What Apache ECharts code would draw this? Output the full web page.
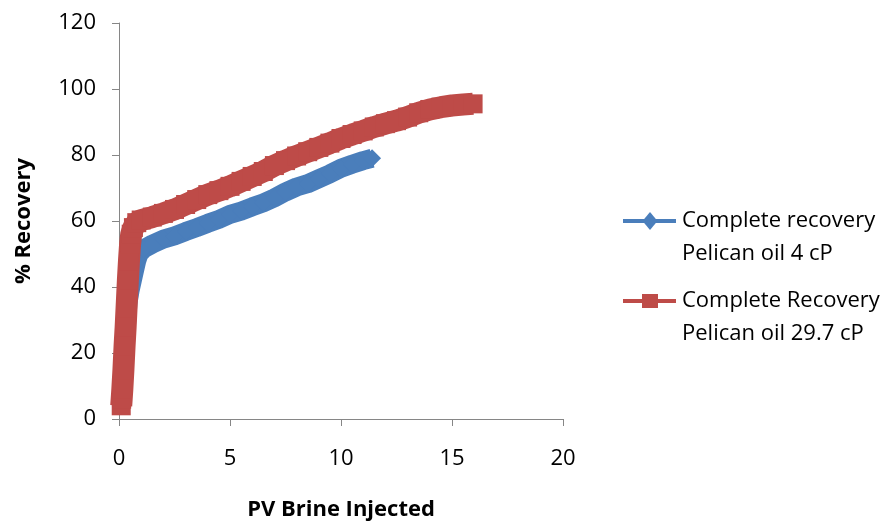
<!DOCTYPE html>
<html>
<head>
<meta charset="utf-8">
<script src="https://cdn.jsdelivr.net/npm/echarts@6/dist/echarts.min.js"></script>
<style>
html,body{margin:0;padding:0;background:#fff;}
#c{width:889px;height:521px;}
</style>
</head>
<body>
<div id="c"></div>
<script>
// ---- data ----
var seriesNames = ['Complete recovery\nPelican oil 4 cP', 'Complete Recovery\nPelican oil 29.7 cP'];
var xTicks = [0, 5, 10, 15, 20];
var yTicks = [0, 20, 40, 60, 80, 100, 120];

var blueX = [0.15, 0.2, 0.25, 0.3, 0.35, 0.4, 0.5, 0.6, 0.7, 0.8, 0.9, 1.1, 1.5, 2, 2.5, 3, 3.5, 4, 4.5, 5, 5.5, 6, 6.5, 7, 7.5, 8, 8.5, 9, 9.5, 10, 10.5, 11, 11.4];
var blueY = [8, 12, 18, 24, 30, 35, 39, 42, 45, 48, 50, 51.5, 53, 54.5, 55.5, 56.8, 58, 59.3, 60.5, 62, 63, 64.3, 65.5, 67, 68.8, 70.3, 71.3, 72.8, 74.3, 76, 77.2, 78.3, 79];

var redX = [0.1, 0.12, 0.15, 0.2, 0.25, 0.3, 0.35, 0.4, 0.45, 0.5, 0.55, 0.65, 0.8, 1.0, 1.5, 2, 2.5, 3, 3.5, 4, 4.5, 5, 5.5, 6, 6.5, 7, 7.5, 8, 8.5, 9, 9.5, 10, 10.5, 11, 11.5, 12, 12.5, 13, 13.5, 14, 14.5, 15, 15.5, 15.95];
var redY = [4, 6, 9, 15, 22, 28, 35, 42, 48, 53, 56, 58, 59.5, 60.3, 61.2, 62.3, 63.5, 65, 66.5, 68, 69.2, 70.5, 72, 73.5, 75, 76.8, 78.3, 79.7, 81, 82.3, 83.6, 85, 86.2, 87.3, 88.5, 89.5, 90.4, 91.5, 92.8, 93.8, 94.5, 95, 95.3, 95.5];

var BLUE = '#4A7EBB';
var RED = '#BE4B48';
var FONT = 'Open Sans';

function pairs(xs, ys) {
  var out = [];
  for (var i = 0; i < xs.length; i++) out.push([xs[i], ys[i]]);
  return out;
}

var chart = echarts.init(document.getElementById('c'), null, {renderer: 'canvas'});
var axisLineColor = '#868686';

var option = {
  backgroundColor: '#fff',
  animation: false,
  grid: {left: 119, right: 326, top: 23, bottom: 102, containLabel: false, outerBoundsMode: 'none'},
  xAxis: {
    type: 'value',
    min: xTicks[0], max: xTicks[xTicks.length - 1], interval: 5,
    name: 'PV Brine Injected',
    nameLocation: 'middle',
    nameGap: 80,
    nameTextStyle: {fontFamily: FONT, fontSize: 22, fontWeight: 'bold', color: '#000'},
    axisLine: {show: true, onZero: false, lineStyle: {color: axisLineColor, width: 1}},
    axisTick: {show: true, inside: false, length: 7, lineStyle: {color: axisLineColor}},
    axisLabel: {fontFamily: FONT, fontSize: 22, color: '#000', margin: 29},
    splitLine: {show: false}
  },
  yAxis: {
    type: 'value',
    min: yTicks[0], max: yTicks[yTicks.length - 1], interval: 20,
    name: '% Recovery',
    nameLocation: 'middle',
    nameGap: 84,
    nameRotate: 90,
    nameTextStyle: {fontFamily: FONT, fontSize: 22, fontWeight: 'bold', color: '#000'},
    axisLine: {show: true, lineStyle: {color: axisLineColor, width: 1}},
    axisTick: {show: true, inside: false, length: 7, lineStyle: {color: axisLineColor}},
    axisLabel: {fontFamily: FONT, fontSize: 22, color: '#000', margin: 23},
    splitLine: {show: false}
  },
  series: [
    {
      name: seriesNames[0],
      type: 'line',
      data: pairs(blueX, blueY),
      symbol: 'diamond',
      symbolSize: [18, 18],
      showAllSymbol: true,
      itemStyle: {color: BLUE},
      lineStyle: {color: BLUE, width: 19, join: 'round'},
      z: 2
    },
    {
      name: seriesNames[1],
      type: 'line',
      data: pairs(redX, redY),
      symbol: 'rect',
      symbolSize: 19,
      showAllSymbol: true,
      itemStyle: {color: RED},
      lineStyle: {color: RED, width: 22, join: 'round'},
      z: 3
    }
  ],
  graphic: [
    {type: 'line', shape: {x1: 623, y1: 221, x2: 676, y2: 221}, style: {stroke: BLUE, lineWidth: 4}},
    {type: 'polygon', shape: {points: [[650, 212], [657.5, 221], [650, 230], [642.5, 221]]}, style: {fill: BLUE}},
    {type: 'text', left: 682, top: 204, style: {text: seriesNames[0], fontFamily: FONT, fontSize: 22, lineHeight: 33, fill: '#000'}},
    {type: 'line', shape: {x1: 623, y1: 301, x2: 676, y2: 301}, style: {stroke: RED, lineWidth: 4}},
    {type: 'rect', shape: {x: 642, y: 294, width: 16, height: 14}, style: {fill: RED}},
    {type: 'text', left: 682, top: 284, style: {text: seriesNames[1], fontFamily: FONT, fontSize: 22, lineHeight: 33, fill: '#000'}}
  ]
};
chart.setOption(option);
</script>
</body>
</html>
